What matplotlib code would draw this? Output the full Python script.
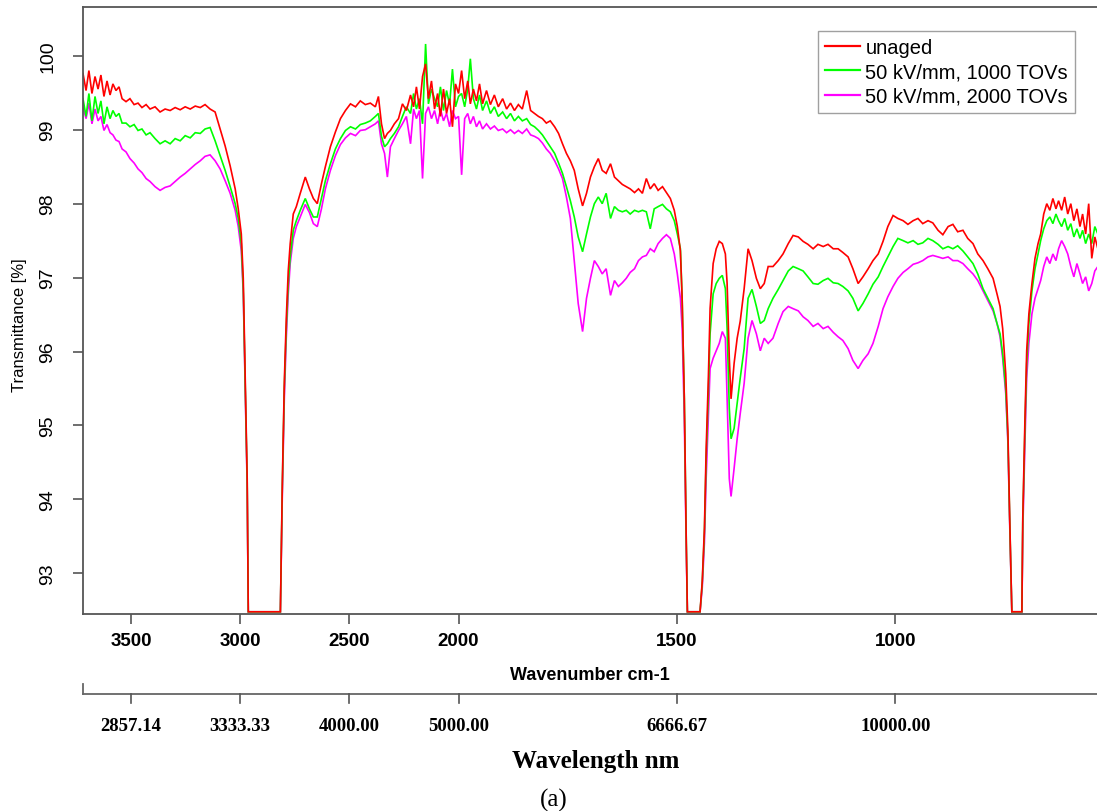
import numpy as np
import matplotlib
matplotlib.use("Agg")
import matplotlib.pyplot as plt
from matplotlib.lines import Line2D
from matplotlib.transforms import blended_transform_factory

plt.rcParams['font.family'] = ['Liberation Sans', 'DejaVu Sans']

# ---------------- data ----------------
wavenumber = [
    3720, 3706, 3693, 3679, 3665, 3651, 3638, 3624, 3610, 3596, 3583, 3569, 3555, 3541,
    3523, 3505, 3486, 3468, 3450, 3431,
    3413, 3390, 3367, 3344, 3321, 3298, 3275, 3252, 3229, 3206, 3183, 3161, 3138, 3115, 3092, 3069, 3046, 3023,
    3009, 2995, 2986, 2977, 2968, 2963,
    2816, 2807, 2798, 2789, 2780, 2771, 2757, 2743, 2725, 2702, 2683, 2665, 2647, 2628, 2610,
    2587, 2564, 2541, 2518, 2495, 2472, 2450, 2427, 2404, 2381, 2367, 2353, 2339, 2326, 2312,
    2294, 2275, 2257, 2239, 2220, 2206, 2193, 2179, 2165, 2151, 2138, 2124, 2110, 2096, 2083,
    2069, 2055, 2041, 2028, 2014, 2000,
    1993, 1986, 1979, 1973, 1966, 1959, 1952, 1945,
    1936, 1927, 1918, 1909, 1899, 1890, 1881, 1872, 1863, 1854, 1844, 1835, 1826, 1817, 1808, 1799,
    1790, 1780, 1771, 1762, 1753, 1744, 1735, 1726, 1716, 1707, 1698, 1689, 1680, 1671, 1662, 1652,
    1643, 1634, 1625, 1616, 1607, 1597, 1588, 1579, 1570, 1561, 1552, 1543, 1533, 1524, 1515, 1506,
    1499, 1492, 1488, 1483, 1479, 1476,
    1447, 1442, 1437, 1433, 1428, 1424, 1417, 1410, 1403, 1396, 1389, 1385, 1380, 1376, 1369, 1362,
    1355, 1346, 1337, 1328, 1318, 1309, 1300, 1291,
    1280, 1268, 1257, 1245, 1234, 1222, 1211, 1200, 1188, 1177, 1165, 1154, 1142, 1131, 1120, 1108,
    1097, 1085, 1074, 1062, 1051, 1039, 1028, 1017, 1005, 994, 982, 971, 959, 948, 937, 925, 914,
    902, 891, 879, 868, 857, 845, 834, 822, 811, 799, 788, 776,
    767, 760, 754, 747, 742, 738, 733,
    710, 708, 703, 699, 694, 687, 680, 673, 667, 660, 653, 646, 639, 632, 626, 619, 612, 605, 598,
    591, 584, 577, 571, 564, 557, 550, 543, 536,
]

t_unaged = [
    99.76, 99.53, 99.80, 99.49, 99.72, 99.55, 99.74, 99.45, 99.66, 99.47, 99.62, 99.53, 99.58, 99.42,
    99.38, 99.42, 99.34, 99.36, 99.30, 99.34,
    99.28, 99.31, 99.24, 99.28, 99.26, 99.30, 99.27, 99.31, 99.28, 99.32, 99.30, 99.34, 99.28, 99.24, 99.01, 98.78, 98.51, 98.20,
    97.93, 97.59, 96.99, 95.64, 94.28, 92.48,
    92.48, 94.24, 95.59, 96.45, 97.09, 97.46, 97.86, 97.96, 98.14, 98.36, 98.20, 98.07, 98.00, 98.27, 98.50,
    98.77, 98.97, 99.15, 99.26, 99.35, 99.31, 99.39, 99.34, 99.36, 99.31, 99.45, 99.08, 98.88, 98.95, 98.99,
    99.08, 99.15, 99.35, 99.26, 99.47, 99.31, 99.58, 99.28, 99.72, 99.89, 99.42, 99.66, 99.28, 99.49, 99.18,
    99.55, 99.22, 99.42, 99.04, 99.62, 99.49,
    99.80, 99.42, 99.66, 99.35, 99.55, 99.39, 99.62, 99.35,
    99.53, 99.34, 99.47, 99.31, 99.42, 99.28, 99.36, 99.26, 99.34, 99.28, 99.53, 99.26, 99.22, 99.18, 99.15, 99.09,
    99.12, 99.04, 98.95, 98.81, 98.68, 98.58, 98.45, 98.20, 97.97, 98.14, 98.36, 98.50, 98.61, 98.45, 98.41, 98.54,
    98.36, 98.31, 98.26, 98.23, 98.20, 98.15, 98.20, 98.14, 98.34, 98.20, 98.27, 98.18, 98.23, 98.15, 98.07, 97.91,
    97.69, 97.36, 96.72, 95.36, 93.61, 92.48,
    92.48, 92.89, 93.61, 94.69, 95.64, 96.58, 97.19, 97.39, 97.49, 97.46, 97.32, 96.92, 95.91, 95.36, 95.84, 96.18,
    96.41, 96.85, 97.39, 97.23, 96.99, 96.85, 96.92, 97.15,
    97.15, 97.23, 97.32, 97.46, 97.57, 97.55, 97.49, 97.45, 97.39, 97.45, 97.42, 97.45, 97.39, 97.39, 97.34, 97.28,
    97.12, 96.92, 97.01, 97.12, 97.23, 97.32, 97.49, 97.69, 97.84, 97.80, 97.77, 97.72, 97.77, 97.80, 97.73, 97.77, 97.74,
    97.64, 97.58, 97.69, 97.72, 97.62, 97.64, 97.53, 97.46, 97.32, 97.23, 97.12, 96.99,
    96.78, 96.61, 96.31, 95.70, 94.92, 93.78, 92.48,
    92.48, 93.74, 95.09, 96.01, 96.51, 96.92, 97.26, 97.46, 97.59, 97.86, 98.00, 97.91, 98.07, 97.93, 98.04, 97.91, 98.09, 97.86, 98.00,
    97.77, 97.93, 97.69, 97.86, 97.59, 98.00, 97.26, 97.55, 97.39,
]

t_1000 = [
    99.42, 99.18, 99.49, 99.12, 99.45, 99.22, 99.39, 99.08, 99.31, 99.15, 99.26, 99.18, 99.22, 99.09,
    99.09, 99.04, 99.07, 98.99, 99.01, 98.93,
    98.96, 98.88, 98.81, 98.85, 98.81, 98.88, 98.85, 98.92, 98.89, 98.96, 98.95, 99.01, 99.03, 98.85, 98.65, 98.45, 98.23, 98.00,
    97.80, 97.46, 96.85, 95.57, 94.22, 92.48,
    92.48, 94.18, 95.50, 96.31, 96.92, 97.28, 97.64, 97.77, 97.91, 98.07, 97.93, 97.82, 97.82, 98.07, 98.31,
    98.54, 98.74, 98.88, 98.99, 99.04, 99.01, 99.07, 99.09, 99.12, 99.18, 99.22, 98.91, 98.77, 98.81, 98.88,
    98.95, 99.04, 99.18, 99.31, 99.22, 99.49, 99.28, 99.42, 99.08, 100.16, 99.35, 99.55, 99.42, 99.31, 99.58,
    99.26, 99.53, 99.34, 99.82, 99.31, 99.45,
    99.49, 99.31, 99.55, 99.96, 99.42, 99.28, 99.47, 99.26,
    99.39, 99.22, 99.31, 99.18, 99.24, 99.15, 99.22, 99.12, 99.18, 99.12, 99.15, 99.07, 99.04, 98.99, 98.93, 98.85,
    98.77, 98.68, 98.55, 98.41, 98.23, 98.04, 97.82, 97.55, 97.35, 97.59, 97.82, 98.00, 98.09, 98.00, 98.14, 97.80,
    97.96, 97.91, 97.89, 97.91, 97.86, 97.91, 97.89, 97.91, 97.89, 97.66, 97.93, 97.96, 97.99, 97.93, 97.89, 97.77,
    97.59, 97.39, 96.72, 95.36, 93.61, 92.48,
    92.48, 92.86, 93.54, 94.55, 95.43, 96.24, 96.78, 96.92, 96.99, 97.03, 96.85, 96.31, 95.23, 94.82, 94.96, 95.30,
    95.64, 96.04, 96.72, 96.84, 96.61, 96.38, 96.42, 96.58,
    96.72, 96.84, 96.96, 97.09, 97.15, 97.12, 97.09, 97.01, 96.92, 96.91, 96.96, 96.99, 96.93, 96.92, 96.88, 96.82,
    96.72, 96.55, 96.65, 96.78, 96.91, 97.01, 97.15, 97.28, 97.42, 97.53, 97.50, 97.47, 97.50, 97.45, 97.47, 97.53, 97.50,
    97.45, 97.39, 97.42, 97.39, 97.43, 97.36, 97.28, 97.19, 97.05, 96.85, 96.72, 96.58,
    96.38, 96.24, 95.97, 95.50, 94.82, 93.74, 92.48,
    92.48, 93.68, 94.96, 95.84, 96.38, 96.82, 97.12, 97.32, 97.50, 97.66, 97.77, 97.82, 97.73, 97.86, 97.77, 97.69, 97.80, 97.64, 97.73,
    97.55, 97.66, 97.53, 97.64, 97.46, 97.59, 97.46, 97.69, 97.59,
]

t_2000 = [
    99.31, 99.15, 99.36, 99.08, 99.28, 99.12, 99.18, 98.99, 99.07, 98.96, 98.93, 98.86, 98.84, 98.74,
    98.70, 98.61, 98.55, 98.47, 98.42, 98.34,
    98.30, 98.23, 98.18, 98.22, 98.24, 98.30, 98.36, 98.41, 98.47, 98.53, 98.58, 98.64, 98.66, 98.58, 98.47, 98.31, 98.14, 97.91,
    97.69, 97.36, 96.78, 95.50, 94.15, 92.48,
    92.48, 94.08, 95.36, 96.18, 96.78, 97.19, 97.53, 97.69, 97.82, 97.99, 97.88, 97.73, 97.69, 97.93, 98.20,
    98.45, 98.65, 98.80, 98.89, 98.95, 98.92, 98.99, 99.00, 99.04, 99.08, 99.12, 98.81, 98.68, 98.36, 98.77,
    98.88, 98.99, 99.08, 99.18, 98.81, 99.28, 99.15, 99.26, 98.34, 99.22, 99.31, 99.15, 99.26, 99.08, 99.28,
    99.12, 99.22, 99.04, 99.26, 99.15, 99.18,
    98.39, 99.15, 99.22, 99.08, 99.18, 99.04, 99.12, 99.01,
    99.08, 99.01, 99.05, 98.99, 99.01, 98.96, 99.00, 98.95, 98.99, 98.95, 99.01, 98.93, 98.91, 98.88, 98.82, 98.74,
    98.68, 98.58, 98.47, 98.34, 98.09, 97.80, 97.23, 96.65, 96.27, 96.72, 96.99, 97.23, 97.15, 97.05, 97.12, 96.76,
    96.96, 96.88, 96.93, 96.99, 97.07, 97.12, 97.23, 97.28, 97.30, 97.39, 97.35, 97.46, 97.53, 97.58, 97.53, 97.32,
    97.05, 96.72, 96.31, 95.09, 93.47, 92.48,
    92.48, 92.80, 93.41, 94.28, 95.09, 95.77, 95.91, 96.01, 96.11, 96.27, 96.18, 95.36, 94.28, 94.04, 94.42, 94.82,
    95.16, 95.57, 96.18, 96.42, 96.24, 96.01, 96.18, 96.11,
    96.18, 96.38, 96.54, 96.61, 96.58, 96.55, 96.47, 96.42, 96.34, 96.38, 96.31, 96.34, 96.26, 96.20, 96.15, 96.04,
    95.88, 95.77, 95.88, 95.97, 96.11, 96.34, 96.58, 96.74, 96.88, 96.99, 97.07, 97.12, 97.18, 97.20, 97.23, 97.28, 97.30,
    97.28, 97.26, 97.28, 97.23, 97.23, 97.19, 97.12, 97.05, 96.96, 96.82, 96.69, 96.55,
    96.38, 96.20, 95.91, 95.43, 94.76, 93.68, 92.48,
    92.48, 93.54, 94.76, 95.64, 96.11, 96.51, 96.72, 96.85, 96.96, 97.15, 97.28, 97.19, 97.32, 97.23, 97.39, 97.50, 97.42, 97.32, 97.15,
    97.01, 97.19, 97.05, 96.92, 97.01, 96.82, 96.92, 97.09, 97.15,
]

series_labels = ["unaged", "50 kV/mm, 1000 TOVs", "50 kV/mm, 2000 TOVs"]
series_colors = ["#ff0000", "#00ff00", "#ff00ff"]
wn_ticks = [3500, 3000, 2500, 2000, 1500, 1000]
y_ticks = [93, 94, 95, 96, 97, 98, 99, 100]

assert len(wavenumber) == len(t_unaged) == len(t_1000) == len(t_2000)

# ---------------- scale: half-compressed above 2000 cm-1 ----------------
def fwd(w):
    w = np.asarray(w, dtype=float)
    return np.where(w > 2000, 2000 + (w - 2000) / 2.0, w)


def inv(u):
    u = np.asarray(u, dtype=float)
    return np.where(u > 2000, 2000 + (u - 2000) * 2.0, u)


W, H = 1097, 812
fig = plt.figure(figsize=(W / 100, H / 100), dpi=100)
ax_left, ax_right, ax_top, ax_bot = 83, 1097, 8, 615
ax = fig.add_axes([ax_left / W, 1 - ax_bot / H, (ax_right - ax_left) / W, (ax_bot - ax_top) / H])
ax.set_xscale('function', functions=(fwd, inv))

series = [t_unaged, t_1000, t_2000]
for vals, col in list(zip(series, series_colors))[::-1]:
    ax.plot(wavenumber, vals, color=col, lw=1.2, solid_joinstyle='miter')

ax.set_xlim(3720, 538)
ax.set_ylim(92.45, 100.66)

spine_col = '#555555'
for s in ['left', 'top', 'bottom']:
    ax.spines[s].set_color(spine_col)
    ax.spines[s].set_linewidth(1.3)
ax.spines['right'].set_visible(False)

ax.set_xticks(wn_ticks)
ax.set_xticklabels([str(t) for t in wn_ticks])
ax.set_yticks(y_ticks)
ax.set_yticklabels([str(t) for t in y_ticks])
ax.minorticks_off()
ax.tick_params(axis='both', direction='out', length=7, width=1.2, color=spine_col)
ax.tick_params(axis='x', labelsize=13.5, pad=6)
ax.tick_params(axis='y', labelsize=14, pad=12, labelrotation=90)
plt.setp(ax.get_xticklabels(), fontweight='bold')
plt.setp(ax.get_yticklabels(), va='center')

ax_h = ax_bot - ax_top
ax_w = ax_right - ax_left
ax.set_xlabel("Wavenumber cm-1", fontsize=13, fontweight='bold', va='center')
ax.xaxis.set_label_coords(0.5, -(676 - ax_bot) / ax_h)
ax.set_ylabel("Transmittance [%]", fontsize=12, va='center', ha='center')
ax.yaxis.set_label_coords((20 - ax_left) / ax_w, (ax_bot - 325) / ax_h)

# legend
handles = [Line2D([], [], color=c, lw=1.6) for c in series_colors]
leg = ax.legend(handles, series_labels, loc='upper right',
                bbox_to_anchor=(1075 / W, 1 - 32 / H), bbox_transform=fig.transFigure,
                fontsize=14.5, frameon=True, fancybox=False, handlelength=1.74,
                handletextpad=0.25, labelspacing=0.27, borderpad=0.35, borderaxespad=0)
leg.get_frame().set_edgecolor('#888888')
leg.get_frame().set_linewidth(1.0)

# secondary wavelength axis (nm = 1e7 / wavenumber), drawn below the main axis
trans = blended_transform_factory(ax.transData, ax.transAxes)
y_line = -(695 - ax_bot) / ax_h
xmin, xmax = ax.get_xlim()
ax.plot([xmin, xmax], [y_line, y_line], color='#666666', lw=1.3, transform=trans, clip_on=False)
ax.plot([xmin, xmin], [y_line, y_line + 10 / ax_h], color='#666666', lw=1.3, transform=trans, clip_on=False)
wl_serif = ['Liberation Serif', 'DejaVu Serif']
for w in wn_ticks:
    ax.plot([w, w], [y_line, y_line - 9 / ax_h], color='#555555', lw=1.2, transform=trans, clip_on=False)
    ax.text(w, -(727 - ax_bot) / ax_h, f"{1e7 / w:.2f}", transform=trans, ha='center', va='center',
            fontsize=13.5, fontweight='bold', family=wl_serif)

fig.text(595.5 / W, 1 - 762 / H, "Wavelength nm", ha='center', va='center', fontsize=18,
         fontweight='bold', family=wl_serif)
fig.text(554 / W, 1 - 800 / H, "(a)", ha='center', va='center', fontsize=18, family=wl_serif)

fig.savefig("out.png", dpi=100, facecolor='white')
